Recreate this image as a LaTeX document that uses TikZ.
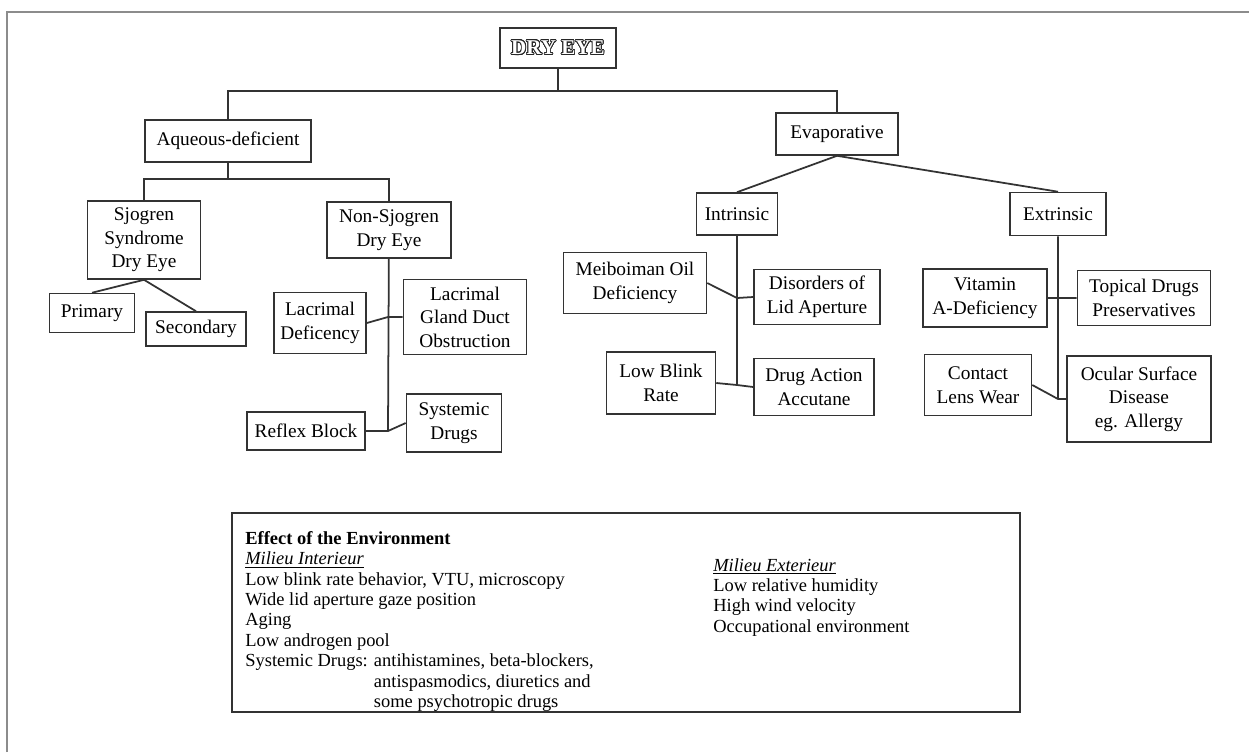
\documentclass[tikz,border=0pt]{standalone}
\usepackage{fontspec}
\setmainfont{Liberation Serif}
\usepackage{contour}
\contourlength{0.45pt}
\contournumber{24}

\begin{document}
\begin{tikzpicture}[x=0.02cm,y=-0.02cm,
    box/.style={draw=black!80,line width=0.9pt,align=center,inner sep=1pt,font=\fontsize{11}{13.4}\selectfont},
    link/.style={draw=black!80,line width=1pt},
    envtext/.style={anchor=north west,align=left,inner sep=0pt,font=\fontsize{10.5}{11.6}\selectfont}]
  \useasboundingbox (0,0) rectangle (1249,752);
  \draw[black!45,line width=1.2pt] (7,752) -- (7,12) -- (1249,12);

  \node[box,minimum width=2.32cm,minimum height=0.8cm] (dry) at (558,48)
    {\fontsize{12}{14}\selectfont\contour{black!85}{\textcolor{white}{\textbf{DRY EYE}}}};
  \node[box,minimum width=3.32cm,minimum height=0.84cm] (aq) at (228,141) {Aqueous-deficient};
  \node[box,minimum width=2.44cm,minimum height=0.84cm] (evap) at (837,134) {Evaporative};

  \node[box,minimum width=2.26cm,minimum height=1.56cm] (sjo) at (144,240) {Sjogren\\Syndrome\\Dry Eye};
  \node[box,minimum width=2.48cm,minimum height=1.12cm] (nonsjo) at (389,230) {Non-Sjogren\\Dry Eye};
  \node[box,minimum width=1.7cm,minimum height=0.78cm] (prim) at (92,313) {Primary};
  \node[box,minimum width=2cm,minimum height=0.68cm] (sec) at (196,329) {Secondary};
  \node[box,minimum width=1.84cm,minimum height=1.22cm] (lacdef) at (320,323) {Lacrimal\\Deficency};
  \node[box,minimum width=2.46cm,minimum height=1.5cm] (lacgland) at (465,317) {Lacrimal\\Gland Duct\\Obstruction};
  \node[box,minimum width=2.36cm,minimum height=0.76cm] (reflex) at (306,431) {Reflex Block};
  \node[box,minimum width=1.9cm,minimum height=1.16cm] (sysdrug) at (454,423) {Systemic\\Drugs};

  \node[box,minimum width=1.62cm,minimum height=0.84cm] (intr) at (737,214) {Intrinsic};
  \node[box,minimum width=2.86cm,minimum height=1.22cm] (meib) at (635,283) {Meiboiman Oil\\Deficiency};
  \node[box,minimum width=2.52cm,minimum height=1.1cm] (lid) at (817,297) {Disorders of\\Lid Aperture};
  \node[box,minimum width=2.18cm,minimum height=1.24cm] (blink) at (661,383) {Low Blink\\Rate};
  \node[box,minimum width=2.4cm,minimum height=1.14cm] (accu) at (814,387) {Drug Action\\Accutane};

  \node[box,minimum width=1.92cm,minimum height=0.86cm] (extr) at (1058,214) {Extrinsic};
  \node[box,minimum width=2.48cm,minimum height=1.16cm] (vita) at (985,298) {Vitamin\\A-Deficiency};
  \node[box,minimum width=2.66cm,minimum height=1.1cm] (topical) at (1144,298) {Topical Drugs\\Preservatives};
  \node[box,minimum width=2.14cm,minimum height=1.22cm] (contact) at (978,385) {Contact\\Lens Wear};
  \node[box,minimum width=2.88cm,minimum height=1.72cm] (ocular) at (1139,399) {Ocular Surface\\Disease\\eg. Allergy};

  \coordinate (bus1) at (558,91);
  \coordinate (bus2) at (228,179);
  \coordinate (t1) at (388,317);
  \coordinate (t2) at (388,431);
  \coordinate (i1) at (737,298);
  \coordinate (i2) at (737,385);
  \coordinate (e1) at (1058,298);
  \coordinate (e2) at (1058,399);

  \path[link]
    (dry) -- (bus1)
    (aq.north) |- (bus1) -| (evap.north)
    (aq) -- (bus2)
    (sjo.north) |- (bus2) -| (nonsjo.north)
    (sjo.south) -- (prim.north)
    (sjo.south) -- (sec.north)
    (nonsjo) -- (t2)
    (lacdef.east) -- (t1) -- (lacgland.west)
    (reflex.east) -- (t2) -- (sysdrug.west)
    (evap.south) -- (intr.north)
    (evap.south) -- (extr.north)
    (intr) -- (i2)
    (meib.east) -- (i1) -- (lid.west)
    (blink.east) -- (i2) -- (accu.west)
    (extr) -- (e2)
    (vita.east) -- (e1) -- (topical.west)
    (contact.east) -- (e2) -- (ocular.west);

  \node[draw=black!80,line width=0.9pt,minimum width=15.76cm,minimum height=3.98cm] (env) at (626,612.5) {};
  \node[envtext] (interieur) at (245,531)
    {\textbf{Effect of the Environment}\\
     \underline{\textit{Milieu Interieur}}\\
     Low blink rate behavior, VTU, microscopy\\
     Wide lid aperture gaze position\\
     Aging\\
     Low androgen pool\\
     Systemic Drugs: antihistamines, beta-blockers,\\
     \phantom{Systemic Drugs: }antispasmodics, diuretics and\\
     \phantom{Systemic Drugs: }some psychotropic drugs};
  \node[envtext] (exterieur) at (713,558)
    {\underline{\textit{Milieu Exterieur}}\\
     Low relative humidity\\
     High wind velocity\\
     Occupational environment};
\end{tikzpicture}
\end{document}
